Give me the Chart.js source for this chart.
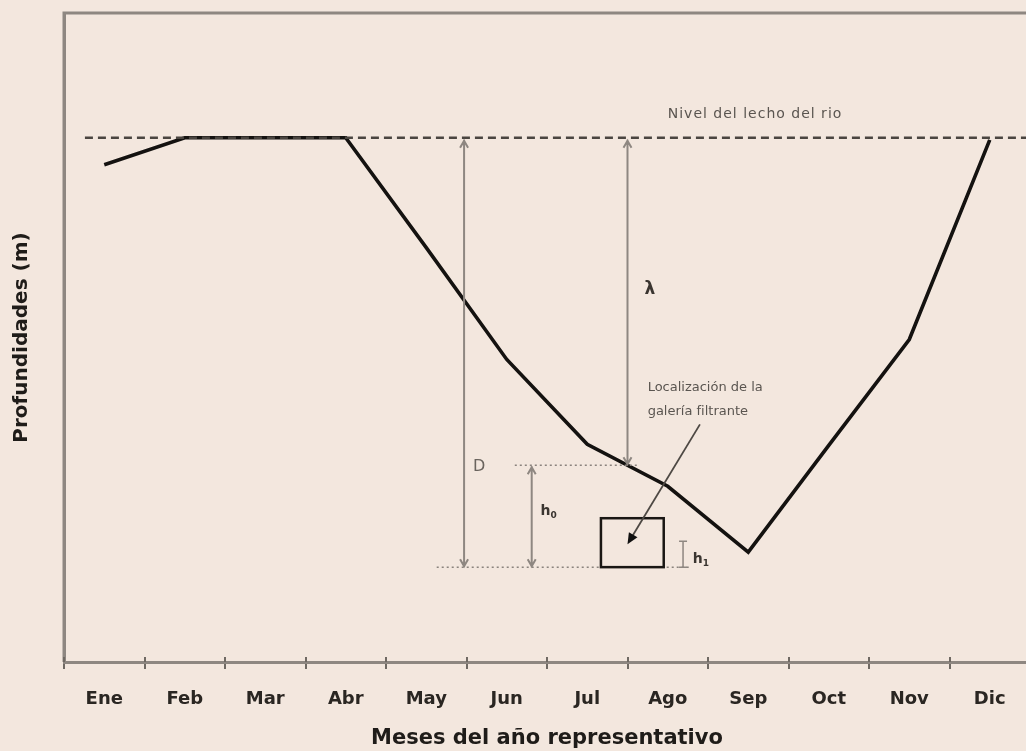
<!DOCTYPE html>
<html lang="es">
<head>
<meta charset="utf-8">
<title>Profundidades del nivel freático</title>
<script src="https://cdn.jsdelivr.net/npm/chart.js@4.4.1/dist/chart.umd.min.js"></script>
<style>
  html, body { margin: 0; padding: 0; background: #f3e7de; }
  #wrap { width: 1026px; height: 751px; overflow: hidden; position: relative; }
  #chart { display: block; }
</style>
</head>
<body>
<div id="wrap"><canvas id="chart" width="1030" height="751" style="width:1030px;height:751px"></canvas></div>
<script>
// Meses del año representativo
const months = ['Ene', 'Feb', 'Mar', 'Abr', 'May', 'Jun', 'Jul', 'Ago', 'Sep', 'Oct', 'Nov', 'Dic'];
// Profundidad del nivel del agua bajo el lecho del río (m)
const depths = [0.54, 0, 0, 0, 2.2, 4.44, 6.14, 6.98, 8.3, 6.16, 4.04, 0.04];

const xTitle = 'Meses del año representativo';
const yTitle = 'Profundidades (m)';
const bedLabel = 'Nivel del lecho del rio';
const calloutLines = ['Localización de la', 'galería filtrante'];

const GREY = '#8e8781';
const INK = '#2a2622';

// Esquema de la galería filtrante, dibujado en coordenadas de los ejes
const schematic = {
  id: 'schematic',
  afterDatasetsDraw(chart) {
    const { ctx, chartArea: ca, scales: { x, y } } = chart;
    const px = v => x.getPixelForValue(v);
    const py = v => y.getPixelForValue(v);

    ctx.save();

    // marco superior e izquierdo del área de trazado
    ctx.strokeStyle = GREY;
    ctx.lineWidth = 3;
    ctx.beginPath();
    ctx.moveTo(ca.left, ca.bottom);
    ctx.lineTo(ca.left, ca.top);
    ctx.lineTo(ca.right + 5, ca.top);
    ctx.stroke();

    // marcas de graduación que sobresalen por encima del eje
    ctx.lineWidth = 2;
    ctx.strokeStyle = '#6f6963';
    for (let i = 0; i <= months.length; i++) {
      const xx = Math.round(px(i - 0.5));
      ctx.beginPath();
      ctx.moveTo(xx, ca.bottom - 5);
      ctx.lineTo(xx, ca.bottom);
      ctx.stroke();
    }

    // nivel del lecho del río
    ctx.strokeStyle = '#4a4540';
    ctx.lineWidth = 2.5;
    ctx.setLineDash([8, 5]);
    ctx.beginPath();
    ctx.moveTo(px(-0.24), py(0));
    ctx.lineTo(ca.right + 5, py(0));
    ctx.stroke();
    ctx.setLineDash([]);

    // líneas punteadas de referencia
    ctx.strokeStyle = '#8a837d';
    ctx.lineWidth = 1.5;
    ctx.setLineDash([2, 3]);
    ctx.beginPath();
    ctx.moveTo(px(5.1), py(6.56));
    ctx.lineTo(px(6.65), py(6.56));
    ctx.moveTo(px(4.13), py(8.6));
    ctx.lineTo(px(7.28), py(8.6));
    ctx.stroke();
    ctx.setLineDash([]);

    // flecha vertical de doble punta
    function dimArrow(xi, d0, d1) {
      const X = px(xi), Y0 = py(d0), Y1 = py(d1);
      ctx.strokeStyle = GREY;
      ctx.lineWidth = 2;
      ctx.beginPath();
      ctx.moveTo(X, Y0);
      ctx.lineTo(X, Y1);
      ctx.moveTo(X - 4, Y0 + 8); ctx.lineTo(X, Y0 + 1); ctx.lineTo(X + 4, Y0 + 8);
      ctx.moveTo(X - 4, Y1 - 8); ctx.lineTo(X, Y1 - 1); ctx.lineTo(X + 4, Y1 - 8);
      ctx.stroke();
    }
    dimArrow(4.47, 0.04, 8.6);   // D
    dimArrow(6.5, 0.04, 6.56);   // λ
    dimArrow(5.31, 6.58, 8.6);   // h0

    // galería filtrante
    ctx.strokeStyle = '#1a1714';
    ctx.lineWidth = 2.5;
    ctx.strokeRect(px(6.17), py(7.62), px(6.95) - px(6.17), py(8.6) - py(7.62));

    // cota h1
    ctx.strokeStyle = GREY;
    ctx.lineWidth = 1.5;
    const hx = px(7.19), hy0 = py(8.08), hy1 = py(8.6);
    ctx.beginPath();
    ctx.moveTo(hx, hy0); ctx.lineTo(hx, hy1);
    ctx.moveTo(hx - 4, hy0); ctx.lineTo(hx + 4, hy0);
    ctx.moveTo(hx - 4, hy1); ctx.lineTo(hx + 4, hy1);
    ctx.stroke();

    // flecha del rótulo de localización
    const ax0 = px(7.4), ay0 = py(5.74), ax1 = px(6.5), ay1 = py(8.14);
    const ang = Math.atan2(ay1 - ay0, ax1 - ax0);
    ctx.strokeStyle = '#4d4843';
    ctx.lineWidth = 1.8;
    ctx.beginPath();
    ctx.moveTo(ax0, ay0);
    ctx.lineTo(ax1 - 6 * Math.cos(ang), ay1 - 6 * Math.sin(ang));
    ctx.stroke();
    ctx.fillStyle = '#111';
    ctx.beginPath();
    ctx.moveTo(ax1, ay1);
    ctx.lineTo(ax1 - 11 * Math.cos(ang) + 5 * Math.sin(ang), ay1 - 11 * Math.sin(ang) - 5 * Math.cos(ang));
    ctx.lineTo(ax1 - 11 * Math.cos(ang) - 5 * Math.sin(ang), ay1 - 11 * Math.sin(ang) + 5 * Math.cos(ang));
    ctx.closePath();
    ctx.fill();

    // rótulos
    ctx.textBaseline = 'middle';
    ctx.textAlign = 'left';
    ctx.fillStyle = '#5a5550';
    ctx.font = '14px "DejaVu Sans"';
    ctx.letterSpacing = '1px';
    ctx.fillText(bedLabel, px(7.0), py(-0.46));
    ctx.letterSpacing = '0px';
    ctx.font = '13px "DejaVu Sans"';
    ctx.fillText(calloutLines[0], px(6.75), py(5.0));
    ctx.fillText(calloutLines[1], px(6.75), py(5.48));

    ctx.font = '16px "DejaVu Sans"';
    ctx.fillStyle = '#6a645e';
    ctx.fillText('D', px(4.58), py(6.6));
    ctx.fillStyle = '#3a3530';
    ctx.font = 'bold 17px "DejaVu Sans"';
    ctx.fillText('λ', px(6.71), py(3.04));

    ctx.fillStyle = '#3a3530';
    ctx.font = 'bold 14px "DejaVu Sans"';
    ctx.fillText('h', px(5.42), py(7.48));
    ctx.fillText('h', px(7.31), py(8.44));
    ctx.font = 'bold 9px "DejaVu Sans"';
    ctx.fillText('0', px(5.42) + 10, py(7.48) + 4);
    ctx.fillText('1', px(7.31) + 10, py(8.44) + 4);

    ctx.restore();
  }
};

new Chart(document.getElementById('chart'), {
  type: 'line',
  data: {
    labels: months,
    datasets: [{
      data: depths,
      borderColor: '#141210',
      borderWidth: 3.6,
      pointRadius: 0,
      tension: 0,
      fill: false,
      borderJoinStyle: 'miter'
    }]
  },
  options: {
    responsive: false,
    animation: false,
    devicePixelRatio: 1,
    layout: { padding: { top: 13, right: 0, bottom: 0, left: 0 } },
    plugins: { legend: { display: false }, tooltip: { enabled: false } },
    scales: {
      x: {
        type: 'category',
        offset: true,
        grid: { offset: true, drawOnChartArea: false, drawTicks: true, tickLength: 7, color: '#6f6963', lineWidth: 2 },
        border: { display: true, color: GREY, width: 3 },
        ticks: { color: INK, padding: 20, font: { family: '"DejaVu Sans"', weight: 'bold', size: 18 } },
        title: {
          display: true, text: xTitle, color: '#1f1c19',
          font: { family: '"DejaVu Sans"', weight: 'bold', size: 21 },
          padding: { top: 0, bottom: 0 }
        },
        afterFit(scale) { scale.height = 89; }
      },
      y: {
        type: 'linear',
        reverse: true,
        min: -2.5,
        max: 10.5,
        grid: { display: false, drawTicks: false },
        border: { display: true, color: GREY, width: 3 },
        ticks: { display: false },
        title: {
          display: true, text: yTitle, color: '#1f1c19',
          font: { family: '"DejaVu Sans"', weight: 'bold', size: 20 },
          padding: { top: 10, bottom: 0 }
        },
        afterFit(scale) { scale.width = 64; }
      }
    }
  },
  plugins: [schematic]
});
</script>
</body>
</html>
